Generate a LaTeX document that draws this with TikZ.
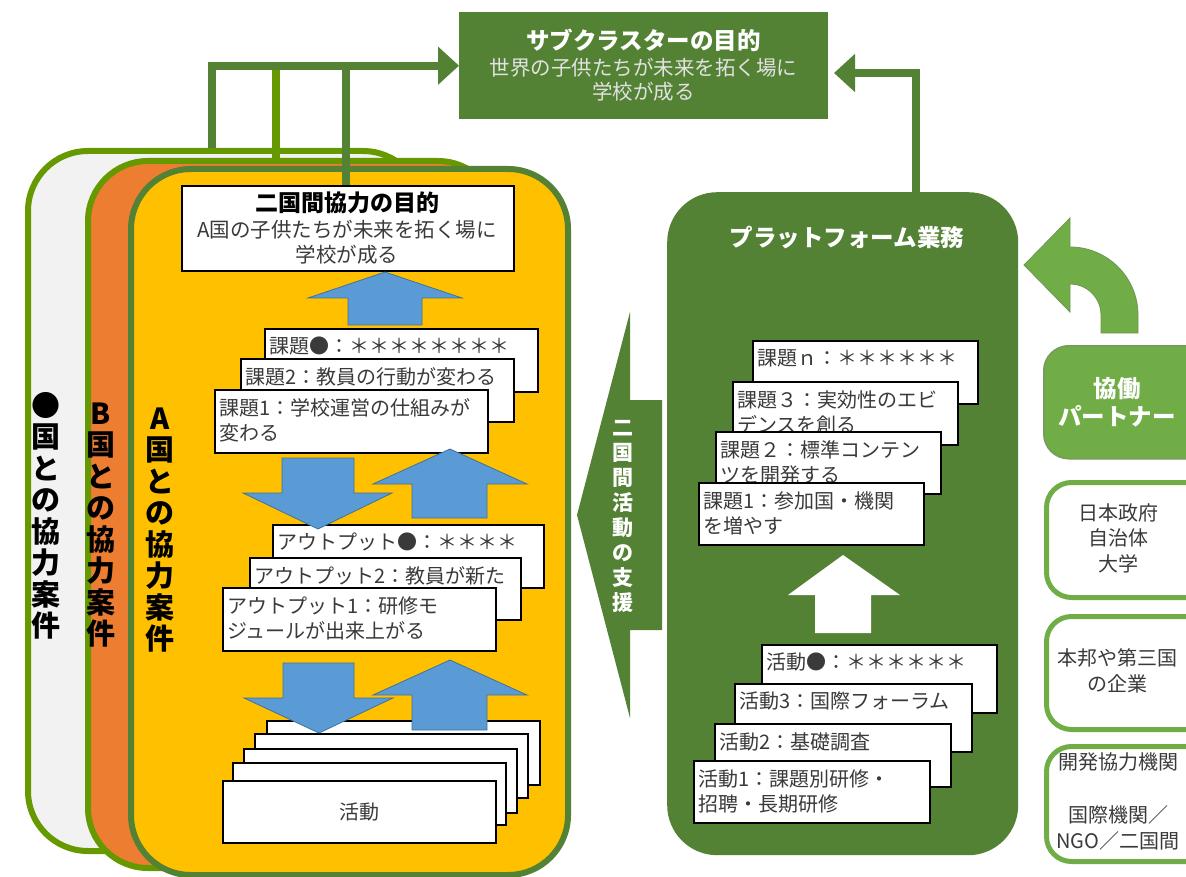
\documentclass[tikz,border=0pt]{standalone}
\usepackage{fontspec}
\setmainfont{Noto Sans CJK JP}
\usetikzlibrary{arrows.meta}
\definecolor{dkgreen}{HTML}{548235}
\definecolor{ygreen}{HTML}{669900}
\definecolor{lgreen}{HTML}{70AD47}
\definecolor{orng}{HTML}{ED7D31}
\definecolor{gold}{HTML}{FFC000}
\definecolor{blu}{HTML}{5B9BD5}
\definecolor{bluedge}{HTML}{41719C}
\definecolor{pale}{HTML}{F2F2F2}
\definecolor{txt}{HTML}{3A3A3A}
\definecolor{subtxt}{HTML}{E2E2E2}
\newcommand\mycard[6]{%
  \node[card, minimum width=#4pt, minimum height=#5pt] (#1) at (#2,#3) {};
  \node[cardtxt] (#1t) at ([xshift=5pt,yshift=-9pt]#1.north west) {#6};
}
\begin{document}
\begin{tikzpicture}[x=1pt,y=-1pt,
  card/.style={draw=black, line width=1.6pt, fill=white, anchor=north west, inner sep=0pt},
  cardtxt/.style={anchor=north west, inner sep=0pt, align=left, text=txt, font=\fontsize{20}{25}\selectfont},
  conn/.style={draw=dkgreen, line width=8pt, -{Triangle[length=21pt,width=37pt]}},
  plainline/.style={line width=8pt},
  blockarrow/.style={fill=blu, draw=bluedge, line width=0.8pt},
  casebox/.style={anchor=north west, rounded corners=60pt, line width=6pt, inner sep=0pt},
  vtext/.style={align=center, inner sep=0pt, font=\fontsize{29}{31.5}\selectfont\bfseries},
  partner/.style={anchor=north west, rounded corners=25pt, inner sep=0pt, minimum width=175pt},
  ptxt/.style={align=center, inner sep=0pt, text=txt, font=\fontsize{20}{25.5}\selectfont},
  whitebold/.style={text=white, inner sep=0pt, align=center, font=\fontsize{23.5}{28.5}\selectfont\bfseries}
]
\useasboundingbox (0,0) rectangle (1186,877);
\clip (0,0) rectangle (1186,877);
\fill[white] (0,0) rectangle (1186,877);

% ---- case boxes ----
\node[casebox, fill=pale, draw=ygreen, minimum width=395pt, minimum height=700pt] (caseX) at (25,148) {};
\node[casebox, fill=orng, draw=ygreen, minimum width=410pt, minimum height=707pt] (caseB) at (85,158) {};
\node[casebox, fill=gold, draw=dkgreen, minimum width=437pt, minimum height=706pt] (caseA) at (128,166) {};

\node[vtext] (tX) at (46,516) {●\\国\\と\\の\\協\\力\\案\\件};
\node[vtext] (tB) at (101,525) {B\\国\\と\\の\\協\\力\\案\\件};
\node[vtext] (tA) at (160,530) {A\\国\\と\\の\\協\\力\\案\\件};

% ---- top goal box ----
\node[anchor=north west, fill=dkgreen, inner sep=0pt, minimum width=369pt, minimum height=107pt] (sub) at (459,12) {};
\node[whitebold] (subT) at (643.5,40) {サブクラスターの目的};
\node[inner sep=0pt, align=center, text=subtxt, font=\fontsize{20.5}{24}\selectfont] (subB) at (643.5,80) {世界の子供たちが未来を拓く場に\\学校が成る};

% ---- connectors from case boxes ----
\coordinate (c1) at (212,148);
\coordinate (c2) at (276,158);
\coordinate (c2j) at (276,67);
\coordinate (c3) at (346,185);
\coordinate (c3j) at (346,67);
\draw[plainline, draw=ygreen] (c2) -- (c2j);
\draw[plainline, draw=dkgreen] (c3) -- (c3j);
\draw[conn] (c1) |- (sub.west);

% ---- bilateral goal box ----
\node[anchor=north west, draw=black, line width=1.8pt, fill=white, inner sep=0pt, minimum width=332pt, minimum height=85pt] (goal) at (181,185) {};
\node[inner sep=0pt, font=\fontsize{23}{28}\selectfont\bfseries] (goalT) at (347,203) {二国間協力の目的};
\node[inner sep=0pt, align=center, text=txt, font=\fontsize{20.5}{25}\selectfont] (goalB) at (347,242) {A国の子供たちが未来を拓く場に\\学校が成る};

% ---- issue cards (left) ----
\mycard{kC}{264}{328}{273}{63}{課題●：＊＊＊＊＊＊＊＊}
\mycard{kB}{240}{358}{273}{63}{課題2：教員の行動が変わる}
\mycard{kA}{214}{389}{273}{63}{課題1：学校運営の仕組みが\\変わる}
\mycard{oC}{272}{524}{271}{63}{アウトプット●：＊＊＊＊}
\mycard{oB}{249}{557}{271}{62}{アウトプット2：教員が新た}
\mycard{oA}{222}{587}{273}{63}{アウトプット1：研修モ\\ジュールが出来上がる}
\node[card, minimum width=273pt, minimum height=64pt] (a5) at (266,720) {};
\node[card, minimum width=273pt, minimum height=64pt] (a4) at (254,733) {};
\node[card, minimum width=273pt, minimum height=64pt] (a3) at (243,748) {};
\node[card, minimum width=273pt, minimum height=62pt] (a2) at (232,762) {};
\node[card, minimum width=273pt, minimum height=62pt, text=txt, font=\fontsize{20}{25}\selectfont] (a1) at (222,780) {活動};

% ---- blue block arrows ----
\filldraw[blockarrow] (385,272) -- (462,298) -- (422,298) -- (422,325) -- (348,325) -- (348,298) -- (308,298) -- cycle;
\filldraw[blockarrow] (282,458) -- (354,458) -- (354,493) -- (392,493) -- (318,529) -- (243,493) -- (282,493) -- cycle;
\filldraw[blockarrow] (450,449) -- (527,484) -- (487,484) -- (487,518) -- (412,518) -- (412,484) -- (373,484) -- cycle;
\filldraw[blockarrow] (283,663) -- (354,663) -- (354,698) -- (393,698) -- (319,733) -- (244,698) -- (283,698) -- cycle;
\filldraw[blockarrow] (450,660) -- (527,695) -- (487,695) -- (487,730) -- (412,730) -- (412,695) -- (373,695) -- cycle;

% ---- platform ----
\node[anchor=north west, fill=dkgreen, rounded corners=50pt, inner sep=0pt, minimum width=351pt, minimum height=663pt] (plat) at (667,192) {};
\node[whitebold] (platT) at (847,238) {プラットフォーム業務};
\coordinate (pa) at (916,192);
\coordinate (pb) at (834,73);
\draw[conn] (pa) |- (pb);

\mycard{kn}{752}{340}{225}{63}{課題ｎ：＊＊＊＊＊＊}
\mycard{k3}{732}{381}{225}{63}{課題３：実効性のエビ\\デンスを創る}
\mycard{k2}{715}{431}{225}{62}{課題２：標準コンテン\\ツを開発する}
\mycard{k1}{698}{482}{225}{62}{課題1：参加国・機関\\を増やす}
\fill[white] (843,555) -- (900,595) -- (871,595) -- (871,633) -- (815,633) -- (815,595) -- (788,595) -- cycle;
\mycard{acC}{761}{644}{235}{68}{活動●：＊＊＊＊＊＊}
\mycard{ac3}{734}{683}{237}{68}{活動3：国際フォーラム}
\mycard{ac2}{714}{723}{236}{63}{活動2：基礎調査}
\mycard{ac1}{693}{760}{236}{62}{活動1：課題別研修・\\招聘・長期研修}

% ---- support arrow ----
\fill[dkgreen] (662,400) -- (630,400) -- (630,312) -- (577,515) -- (630,718) -- (630,630) -- (662,630) -- cycle;
\node[inner sep=0pt, align=center, text=white, font=\fontsize{21}{25}\selectfont\bfseries] (sup) at (623,516) {二\\国\\間\\活\\動\\の\\支\\援};

% ---- curved arrow ----
\filldraw[fill=lgreen, draw=dkgreen!85, line width=0.8pt] (1024,265) -- (1070,218) -- (1070,247)
  .. controls (1107.5,247) and (1138,277.5) .. (1138,315) -- (1138,333) -- (1101,333) -- (1101,315)
  .. controls (1101,297.9) and (1087.1,284) .. (1070,284) -- (1070,312) -- cycle;

% ---- partners ----
\node[partner, fill=lgreen, draw=dkgreen!80, line width=1.5pt, minimum height=113pt] (pt0) at (1043,345) {};
\node[whitebold] (pt0t) at (1117,402) {協働\\パートナー};
\node[partner, fill=white, draw=lgreen, line width=5pt, minimum height=115pt] (pt1) at (1044,480) {};
\node[ptxt] (pt1t) at (1118,538) {日本政府\\自治体\\大学};
\node[partner, fill=white, draw=lgreen, line width=5pt, minimum height=113pt] (pt2) at (1044,614) {};
\node[ptxt] (pt2t) at (1117,671) {本邦や第三国\\の企業};
\node[partner, fill=white, draw=lgreen, line width=5pt, minimum height=115pt] (pt3) at (1044,744) {};
\node[ptxt] (pt3a) at (1118,762) {開発協力機関};
\node[ptxt] (pt3b) at (1118,828) {国際機関／\\NGO／二国間};
\end{tikzpicture}
\end{document}
